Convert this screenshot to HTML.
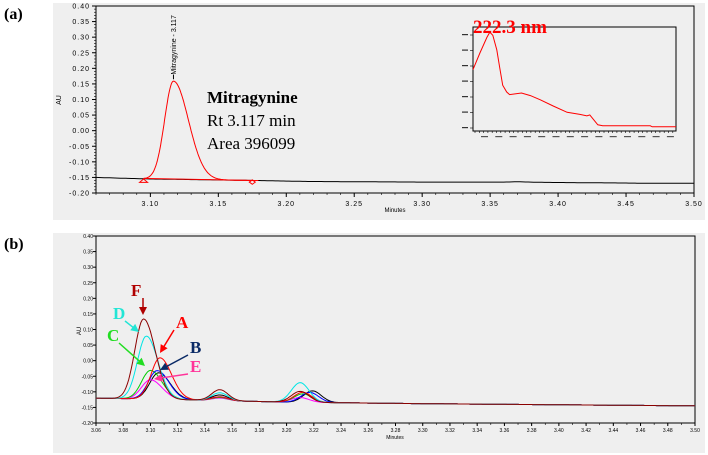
<!DOCTYPE html>
<html><head><meta charset="utf-8"><style>
body{margin:0;background:#fff;width:708px;height:455px;overflow:hidden;font-family:"Liberation Sans",sans-serif}
svg{display:block}
</style></head><body>
<svg id="c" width="708" height="455" xmlns="http://www.w3.org/2000/svg">
<text x="4" y="19" font-family="Liberation Serif" font-weight="bold" font-size="16">(a)</text>
<text x="4" y="249" font-family="Liberation Serif" font-weight="bold" font-size="16">(b)</text>
<rect x="53" y="3" width="652" height="217" fill="#efefef"/>
<rect x="53" y="233" width="652" height="220" fill="#efefef"/>
<g id="ga"></g>
<g id="gb"></g>
</svg>
<script>
// ---- Panel (a) data ----
const aXTicks=[3.10,3.15,3.20,3.25,3.30,3.35,3.40,3.45,3.50];
const aYTicks=[0.40,0.35,0.30,0.25,0.20,0.15,0.10,0.05,0.00,-0.05,-0.10,-0.15,-0.20];
const aBaseTimes=[3.06,3.075,3.10,3.18,3.215,3.30,3.36,3.37,3.39,3.45,3.47,3.50];
const aBaseVals=[-0.150,-0.152,-0.155,-0.160,-0.163,-0.165,-0.165,-0.164,-0.166,-0.168,-0.169,-0.169];
const aPeakRt=[3.117];
const aPeakHeight=[0.315];
const aPeakSigmaL=[0.0065];
const aPeakSigmaR=[0.011];
// spectrum inset
const specNm=[205,212,219,222,225,229,232,235,239,242,254,263,273,286,300,313,320,323,331,336,384,386,410];
const specAbs=[0.59,0.75,0.90,0.95,0.92,0.78,0.61,0.44,0.375,0.35,0.365,0.34,0.30,0.24,0.18,0.16,0.145,0.155,0.06,0.05,0.05,0.04,0.04];
// ---- Panel (b) data ----
const bXTicks=[3.06,3.08,3.10,3.12,3.14,3.16,3.18,3.20,3.22,3.24,3.26,3.28,3.30,3.32,3.34,3.36,3.38,3.40,3.42,3.44,3.46,3.48,3.50];
const bYTicks=[0.40,0.35,0.30,0.25,0.20,0.15,0.10,0.05,0.00,-0.05,-0.10,-0.15,-0.20];
const bSeriesNames=["black","E","C","B","A","D","F"];
const bColors=["#000000","#ff00ff","#00cc00","#0000ff","#ff0000","#00e5e5","#8b0000"];
const bPeak1Rt=[3.106,3.100,3.100,3.105,3.107,3.097,3.095];
const bPeak1H=[0.085,0.062,0.092,0.092,0.133,0.202,0.257];
const bPeak2H=[0.018,0.008,0.010,0.012,0.012,0.025,0.035];
const bPeak3Rt=[3.219,3.210,3.212,3.217,3.212,3.210,3.210];
const bPeak3H=[0.037,0.015,0.027,0.032,0.032,0.063,0.035];
const bBaseTimes=[3.06,3.12,3.20,3.30,3.50];
const bBaseVals=[-0.120,-0.125,-0.133,-0.138,-0.145];

const NS="http://www.w3.org/2000/svg";
function mk(tag,attrs,parent){const e=document.createElementNS(NS,tag);for(const k in attrs)e.setAttribute(k,attrs[k]);parent.appendChild(e);return e;}
function interp(xs,ys,x){if(x<=xs[0])return ys[0];for(let i=1;i<xs.length;i++){if(x<=xs[i]){const t=(x-xs[i-1])/(xs[i]-xs[i-1]);return ys[i-1]+t*(ys[i]-ys[i-1]);}}return ys[ys.length-1];}
function txt(p,x,y,s,attrs){const t=mk('text',Object.assign({x:x,y:y},attrs),p);t.textContent=s;return t;}

// ===== Panel A =====
const ga=document.getElementById('ga');
const A={l:96,r:694,t:6,b:193,x0:3.06,x1:3.50,y0:-0.20,y1:0.40};
const ax=v=>A.l+(v-A.x0)/(A.x1-A.x0)*(A.r-A.l);
const ay=v=>A.b-(v-A.y0)/(A.y1-A.y0)*(A.b-A.t);
let fr=mk('rect',{x:A.l,y:A.t,width:A.r-A.l,height:A.b-A.t,fill:'none',stroke:'#000','stroke-width':1},ga);

aYTicks.forEach(v=>{
  mk('line',{x1:A.l-4,x2:A.l,y1:ay(v),y2:ay(v),stroke:'#000'},ga);
  const t=txt(ga,A.l-6,ay(v)+2.5,v.toFixed(2),{'font-size':7,'text-anchor':'end','letter-spacing':'1'});
  
});
for(let v=-0.20;v<=0.40001;v+=0.01){mk('line',{x1:A.l-2,x2:A.l,y1:ay(v),y2:ay(v),stroke:'#000','stroke-width':0.6},ga);}
aXTicks.forEach(v=>{
  mk('line',{x1:ax(v),x2:ax(v),y1:A.b,y2:A.b+4,stroke:'#000'},ga);
  const t=txt(ga,ax(v),A.b+13,v.toFixed(2),{'font-size':7,'text-anchor':'middle','letter-spacing':'1'});
  
});
for(let v=3.06;v<=3.5001;v+=0.01){mk('line',{x1:ax(v),x2:ax(v),y1:A.b,y2:A.b+2,stroke:'#000','stroke-width':0.6},ga);}
let t1=txt(ga,395,212,'Minutes',{'font-size':6,'text-anchor':'middle'});
let t2=txt(ga,0,0,'AU',{'font-size':7,'text-anchor':'middle',transform:'translate(61,100) rotate(-90)'});
// baseline
let d='';for(let x=A.x0;x<=A.x1+1e-9;x+=0.002){d+=(d?'L':'M')+ax(x).toFixed(1)+','+ay(interp(aBaseTimes,aBaseVals,x)).toFixed(1);}
let bl=mk('path',{d:d,fill:'none',stroke:'#000','stroke-width':1},ga);
// peak
d='';for(let x=3.095;x<=3.18;x+=0.0005){let y=interp(aBaseTimes,aBaseVals,x);aPeakRt.forEach((rt,i)=>{const s=x<rt?aPeakSigmaL[i]:aPeakSigmaR[i];y+=aPeakHeight[i]*Math.exp(-0.5*((x-rt)/s)**2);});d+=(d?'L':'M')+ax(x).toFixed(1)+','+ay(y).toFixed(1);}
let pk=mk('path',{d:d,fill:'none',stroke:'#ff0000','stroke-width':1},ga);
let rb=mk('line',{x1:ax(3.095),y1:ay(-0.153),x2:ax(3.175),y2:ay(-0.160),stroke:'#ff0000'},ga);
let tri=mk('path',{d:`M${ax(3.095)-4},${ay(-0.166)}L${ax(3.095)+4},${ay(-0.166)}L${ax(3.095)},${ay(-0.155)}Z`,fill:'none',stroke:'#ff0000'},ga);
let dia=mk('path',{d:`M${ax(3.175)-3},${ay(-0.165)}L${ax(3.175)},${ay(-0.158)}L${ax(3.175)+3},${ay(-0.165)}L${ax(3.175)},${ay(-0.172)}Z`,fill:'none',stroke:'#ff0000'},ga);
mk('line',{x1:ax(aPeakRt[0]),x2:ax(aPeakRt[0]),y1:ay(0.165),y2:ay(0.18),stroke:'#000'},ga);
let pl=txt(ga,0,0,'Mitragynine - 3.117',{'font-size':7,transform:`translate(${ax(aPeakRt[0])+2.5},${ay(0.18)}) rotate(-90)`});
let ann=[['Mitragynine',103,'bold'],['Rt 3.117 min',126,'normal'],['Area 396099',149,'normal']];
ann.forEach(a=>{const t=txt(ga,207,a[1],a[0],{'font-family':'Liberation Serif','font-size':17,'font-weight':a[2]});});
// inset
const I={l:473,r:676,t:27,b:131,x0:205,x1:410};
const ix=v=>I.l+(v-I.x0)/(I.x1-I.x0)*(I.r-I.l);
const iy=v=>I.b-v*(I.b-I.t);
let ib=mk('rect',{x:I.l,y:I.t,width:I.r-I.l,height:I.b-I.t,fill:'none',stroke:'#000'},ga);
for(let i=0;i<7;i++){mk('line',{x1:I.l-3,x2:I.l,y1:I.b-3-i*15.5,y2:I.b-3-i*15.5,stroke:'#000','stroke-width':0.6},ga);mk('rect',{x:I.l-11,y:I.b-4-i*15.5,width:6,height:1.2,fill:'#333'},ga);}
for(let x=I.l+2;x<I.r;x+=4.3){mk('line',{x1:x,x2:x,y1:I.b,y2:I.b+2,stroke:'#000','stroke-width':0.6},ga);}
for(let i=0;i<14;i++){mk('rect',{x:I.l+8+i*14.3,y:I.b+5,width:7,height:1.2,fill:'#555'},ga);}
d='';specNm.forEach((n,i)=>{d+=(i?'L':'M')+ix(n).toFixed(1)+','+iy(specAbs[i]).toFixed(1);});
let sp=mk('path',{d:d,fill:'none',stroke:'#ff0000','stroke-width':1},ga);
let st=txt(ga,473,33,'222.3 nm',{'font-family':'Liberation Serif','font-size':19,'font-weight':'bold',fill:'#ff0000'});

// ===== Panel B =====
const gb=document.getElementById('gb');
const B={l:96,r:695,t:236,b:423,x0:3.06,x1:3.50,y0:-0.20,y1:0.40};
const bx=v=>B.l+(v-B.x0)/(B.x1-B.x0)*(B.r-B.l);
const by=v=>B.b-(v-B.y0)/(B.y1-B.y0)*(B.b-B.t);
let fb=mk('rect',{x:B.l,y:B.t,width:B.r-B.l,height:B.b-B.t,fill:'none',stroke:'#000'},gb);
bYTicks.forEach(v=>{mk('line',{x1:B.l-3,x2:B.l,y1:by(v),y2:by(v),stroke:'#000'},gb);const t=txt(gb,B.l-3,by(v)+2,v.toFixed(2),{'font-size':5,'text-anchor':'end'});});
bXTicks.forEach(v=>{mk('line',{x1:bx(v),x2:bx(v),y1:B.b,y2:B.b+3,stroke:'#000'},gb);const t=txt(gb,bx(v),B.b+9,v.toFixed(2),{'font-size':5,'text-anchor':'middle'});});
for(let v=3.06;v<=3.5001;v+=0.01){mk('line',{x1:bx(v),x2:bx(v),y1:B.b,y2:B.b+2,stroke:'#000','stroke-width':0.6},gb);}
let t3=txt(gb,395,439,'Minutes',{'font-size':5,'text-anchor':'middle'});
let t4=txt(gb,0,0,'AU',{'font-size':6,'text-anchor':'middle',transform:'translate(81,331) rotate(-90)'});
bSeriesNames.forEach((nm,i)=>{
  let d='';
  for(let x=B.x0;x<=B.x1+1e-9;x+=0.001){
    let y=interp(bBaseTimes,bBaseVals,x);
    y+=bPeak1H[i]*Math.exp(-0.5*((x-bPeak1Rt[i])/(x<bPeak1Rt[i]?0.0065:0.0085))**2);
    y+=bPeak2H[i]*Math.exp(-0.5*((x-3.151)/0.006)**2);
    y+=bPeak3H[i]*Math.exp(-0.5*((x-bPeak3Rt[i])/0.0065)**2);
    d+=(d?'L':'M')+bx(x).toFixed(1)+','+by(y).toFixed(1);
  }
  const p=mk('path',{d:d,fill:'none',stroke:bColors[i],'stroke-width':1},gb);
  
  
});
// labels + arrows
const labs=[['F','#b00000',131,296,143,315],['D','#22e5d5',113,319,139,332],['C','#22dd22',107,341,145,366],['A','#ff0000',176,328,160,353],['B','#0a2a66',190,353,160,370],['E','#ff3399',190,372,154,379]];
labs.forEach(l=>{
  const t=txt(gb,l[2],l[3],l[0],{'font-family':'Liberation Serif','font-size':17,'font-weight':'bold',fill:l[1]});
  
  const sx=l[2]+(l[4]>l[2]?12:-2),sy=l[3]+(l[5]>l[3]?2:-6);
  const a=Math.atan2(l[5]-sy,l[4]-sx),h=8;
  const ln=mk('line',{x1:sx,y1:sy,x2:l[4]-Math.cos(a)*h*0.8,y2:l[5]-Math.sin(a)*h*0.8,stroke:l[1],'stroke-width':1.5},gb);
  
  const p1=[l[4]-Math.cos(a)*h+Math.sin(a)*4,l[5]-Math.sin(a)*h-Math.cos(a)*4],p2=[l[4]-Math.cos(a)*h-Math.sin(a)*4,l[5]-Math.sin(a)*h+Math.cos(a)*4];
  mk('path',{d:`M${l[4]},${l[5]}L${p1[0]},${p1[1]}L${p2[0]},${p2[1]}Z`,fill:l[1]},gb);
});
</script>
</body></html>
